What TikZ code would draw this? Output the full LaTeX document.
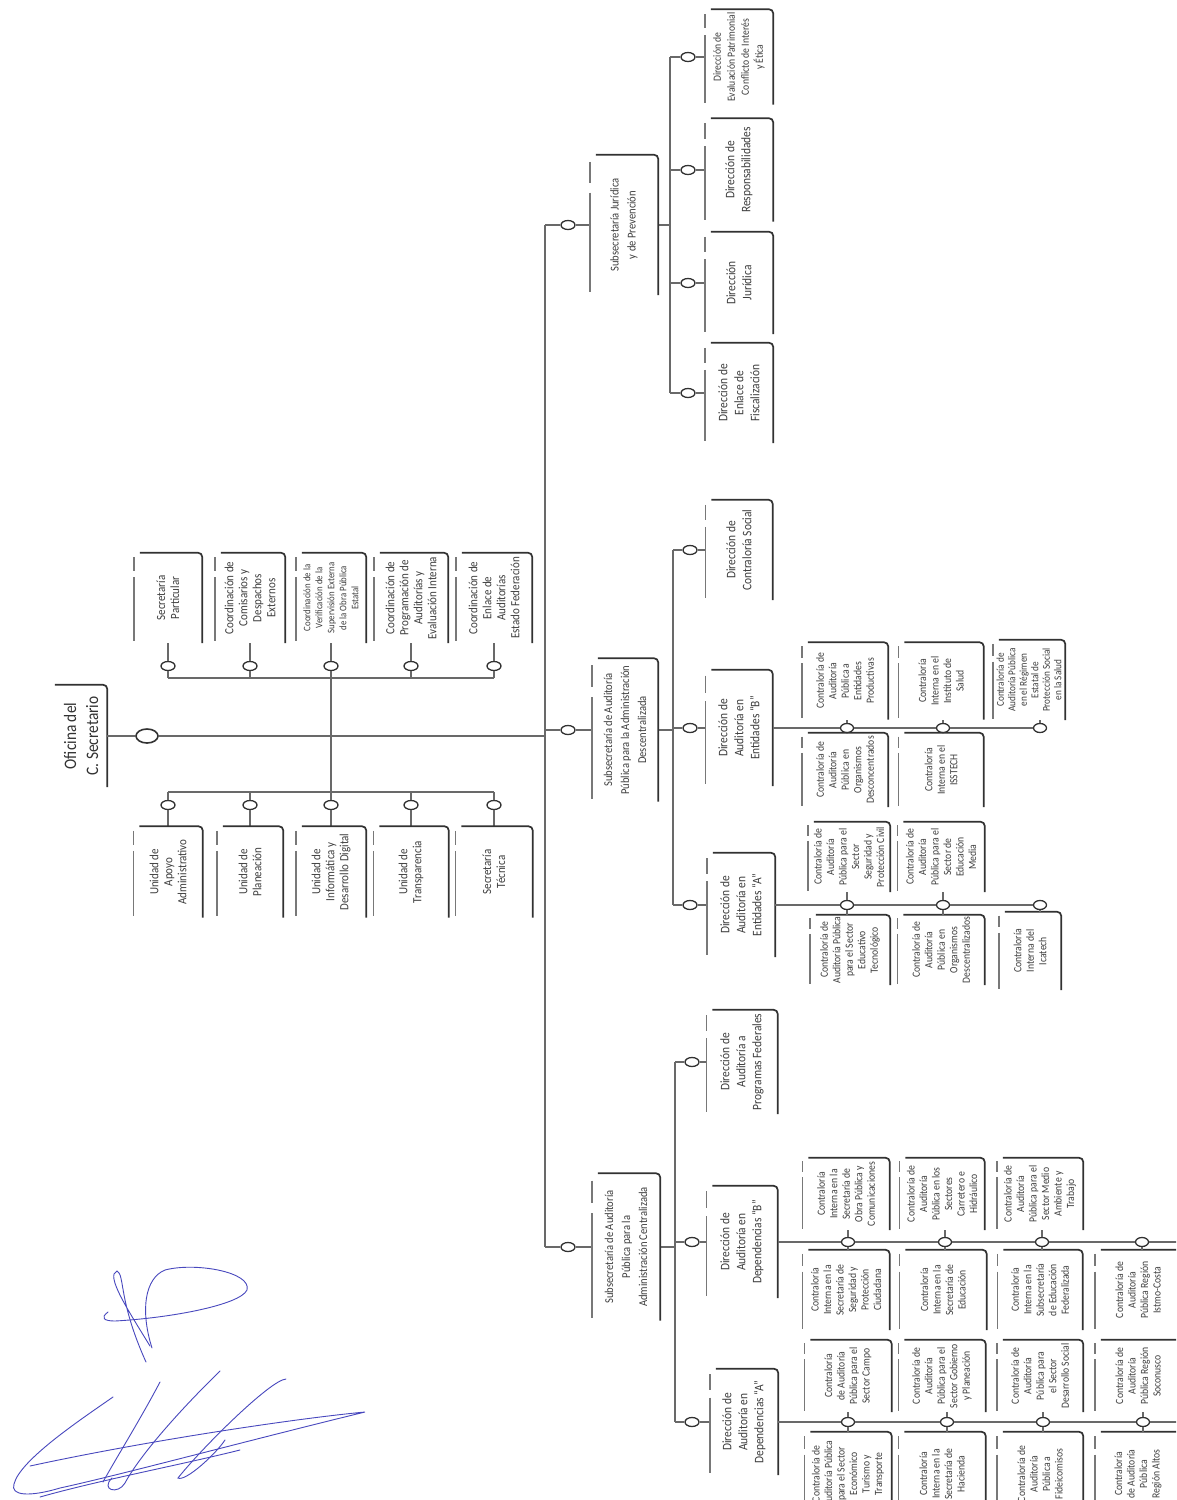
\documentclass[tikz,border=0pt]{standalone}
\usepackage{fontspec}
\setmainfont{Carlito}[FakeStretch=0.88]
\usepackage{xcolor}
\usepackage{tikz}
\usetikzlibrary{shapes.geometric,calc}

\definecolor{linkc}{RGB}{105,105,105}
\definecolor{edgec}{RGB}{50,50,50}
\definecolor{tabc}{RGB}{120,120,120}
\definecolor{txtc}{RGB}{62,62,62}
\definecolor{inkc}{RGB}{72,72,190}

% frame of a unit: dark top and right edges, broken tab on the left
\newcommand{\unitframe}[1]{%
  \draw[boxedge] ($(#1.north east)+(6,0)$) -- (#1.south east) -- (#1.south west);
  \draw[boxtab] ($(#1.north east)!0.05!(#1.north west)$) -- ($(#1.north east)!0.2!(#1.north west)$)
    ($(#1.north east)!0.27!(#1.north west)$) -- ($(#1.north east)!0.98!(#1.north west)$);
}

\begin{document}
\begin{tikzpicture}[x=1pt, y=-1pt,
  ubox/.style 2 args={rotate=90, minimum height=#1pt, minimum width=#2pt, inner sep=1pt, align=center, text=txtc, font=\fontsize{12.5}{14}\selectfont},
  sbox/.style={font=\fontsize{12}{17}\selectfont},
  dbox/.style={font=\fontsize{13}{16}\selectfont},
  gbox/.style={font=\fontsize{11}{12.5}\selectfont},
  lnk/.style={draw=linkc, line width=2.4pt},
  lnkg/.style={draw=linkc, line width=1.7pt},
  oval/.style={ellipse, draw=edgec, line width=1.3pt, fill=white, inner sep=0pt, minimum width=14pt, minimum height=9pt},
  bigoval/.style={oval, minimum width=22pt, minimum height=14pt, line width=1.6pt},
  boxedge/.style={draw=edgec, line width=1.7pt, rounded corners=4pt},
  boxtab/.style={draw=tabc, line width=1.6pt},
  ink/.style={draw=inkc, line width=0.9pt, line cap=round}
]
  \fill[white] (0,0) rectangle (1176,1500);
  \useasboundingbox (0,0) rectangle (1176,1500);
  \clip (0,0) rectangle (1176,1500);

  % head
  \node[ubox={52}{102}, font=\fontsize{17.5}{22}\selectfont, text=edgec] (of) at (81,736) {Oficina del\\C. Secretario};
  \draw[boxedge] (of.north east) -- (of.south east) -- (of.south west);
  \node[bigoval] (o0) at (147,736) {};
  \coordinate (busM) at (545,736);
  \coordinate (busT) at (545,225);
  \coordinate (busD) at (545,730);
  \coordinate (busB) at (545,1247);
  \draw[lnk] (of.south) -- (o0) -- (busM);
  \draw[lnk] (busT) -- (busB);

  % staff units
  \node[ubox={68}{90}] (sp) at (168,598) {Secretaría\\Particular};
  \node[ubox={70}{90}] (ccd) at (250,598) {Coordinación de\\Comisarios y\\Despachos\\Externos};
  \node[ubox={70}{90}, font=\fontsize{10}{12}\selectfont] (cvs) at (331,598) {Coordinación de la\\Verificación de la\\Supervisión Externa\\de la Obra Pública\\Estatal};
  \node[ubox={74}{90}] (cpa) at (411,598) {Coordinación de\\Programación de\\Auditorías y\\Evaluación Interna};
  \node[ubox={76}{90}] (cea) at (494,598) {Coordinación de\\Enlace de\\Auditorías\\Estado Federación};
  \node[ubox={69}{91}] (uaa) at (168,872) {Unidad de\\Apoyo\\Administrativo};
  \node[ubox={66}{91}] (upl) at (250,872) {Unidad de\\Planeación};
  \node[ubox={70}{91}] (uid) at (331,872) {Unidad de\\Informática y\\Desarrollo Digital};
  \node[ubox={75}{91}] (utr) at (411,872) {Unidad de\\Transparencia};
  \node[ubox={77}{91}] (stc) at (494,872) {Secretaría\\Técnica};

  \coordinate (ubL) at (168,678);
  \coordinate (ubR) at (494,678);
  \coordinate (lbL) at (168,792);
  \coordinate (lbR) at (494,792);
  \draw[lnk] (ubL) -- (ubR);
  \draw[lnk] (lbL) -- (lbR);
  \draw[lnk] (ubL -| 331,0) -- (lbL -| 331,0);
  \foreach \n/\x in {sp/168, ccd/250, cvs/331, cpa/411, cea/494} {
    \node[oval] (o\n) at (\x,666) {};
    \draw[lnk] (\x,678) -- (o\n) -- (\n.west);
  }
  \foreach \n/\x in {uaa/168, upl/250, uid/331, utr/411, stc/494} {
    \node[oval] (o\n) at (\x,805) {};
    \draw[lnk] (\x,792) -- (o\n) -- (\n.east);
  }

  % subsecretarias
  \node[ubox={68}{140}, sbox] (sjp) at (624,225) {Subsecretaría Jurídica\\y de Prevención};
  \node[ubox={66}{143}, sbox] (sad) at (625,730) {Subsecretaría de Auditoría\\Pública para la Administración\\Descentralizada};
  \node[ubox={68}{147}, sbox] (sac) at (626,1247) {Subsecretaría de Auditoría\\Pública para la\\Administración Centralizada};
  \node[oval] (osjp) at (568,225) {};
  \node[oval] (osad) at (568,730) {};
  \node[oval] (osac) at (568,1247) {};
  \draw[lnk] (busT) -- (osjp) -- (sjp);
  \draw[lnk] (busD) -- (osad) -- (sad);
  \draw[lnk] (busB) -- (osac) -- (sac);

  % direcciones
  \node[ubox={68}{95}, dbox, font=\fontsize{11}{14}\selectfont] (dep) at (739,57) {Dirección de\\Evaluación Patrimonial\\Conflicto de Interés\\y Ética};
  \node[ubox={68}{103}, dbox] (dre) at (739,170) {Dirección de\\Responsabilidades};
  \node[ubox={68}{102}, dbox] (dju) at (739,283) {Dirección\\Jurídica};
  \node[ubox={68}{100}, dbox] (def) at (739,393) {Dirección de\\Enlace de\\Fiscalización};
  \node[ubox={67}{100}, dbox] (dcs) at (739,550) {Dirección de\\Contraloría Social};
  \node[ubox={67}{116}, dbox] (deb) at (739,728) {Dirección de\\Auditoría en\\Entidades “B”};
  \node[ubox={68}{104}, dbox] (dea) at (741,905) {Dirección de\\Auditoría en\\Entidades “A”};
  \node[ubox={71}{104}, dbox] (dpf) at (742,1062) {Dirección de\\Auditoría a\\Programas Federales};
  \node[ubox={71}{112}, dbox] (ddb) at (742,1242) {Dirección de\\Auditoría en\\Dependencias “B”};
  \node[ubox={68}{106}, dbox] (dda) at (744,1422) {Dirección de\\Auditoría en\\Dependencias “A”};

  \draw[lnk] (670,57) -- (670,393);
  \draw[lnk] (sjp.south) -- (670,225);
  \foreach \n/\y in {dep/57, dre/170, dju/283, def/393} {
    \node[oval] (o\n) at (688,\y) {};
    \draw[lnk] (670,\y) -- (o\n) -- (\n);
  }
  \draw[lnk] (673,550) -- (673,905);
  \draw[lnk] (sad.south) -- (673,730);
  \foreach \n/\y in {dcs/550, deb/728, dea/905} {
    \node[oval] (o\n) at (690,\y) {};
    \draw[lnk] (673,\y) -- (o\n) -- (\n);
  }
  \draw[lnk] (675,1062) -- (675,1422);
  \draw[lnk] (sac.south) -- (675,1247);
  \foreach \n/\y in {dpf/1062, ddb/1242, dda/1422} {
    \node[oval] (o\n) at (692,\y) {};
    \draw[lnk] (675,\y) -- (o\n) -- (\n);
  }

  % contralorias, entidades B
  \node[ubox={86}{77}, gbox] (eb1) at (845,681) {Contraloría de\\Auditoría\\Pública a\\Entidades\\Productivas};
  \node[ubox={85}{77}, gbox] (eb2) at (941,681) {Contraloría\\Interna en el\\Instituto de\\Salud};
  \node[ubox={72}{80}, gbox, font=\fontsize{10.5}{11.5}\selectfont] (eb3) at (1029,680) {Contraloría de\\Auditoría Pública\\en el Régimen\\Estatal de\\Protección Social\\en la Salud};
  \node[ubox={86}{74}, gbox] (eb4) at (845,770) {Contraloría de\\Auditoría\\Pública en\\Organismos\\Desconcentrados};
  \node[ubox={85}{74}, gbox] (eb5) at (941,770) {Contraloría\\Interna en el\\ISSTECH};

  % contralorias, entidades A
  \node[ubox={82}{70}, gbox] (ea1) at (849,857) {Contraloría de\\Auditoría\\Pública para el\\Sector\\Seguridad y\\Protección Civil};
  \node[ubox={87}{70}, gbox] (ea2) at (941,857) {Contraloría de\\Auditoría\\Pública para el\\Sector de\\Educación\\Media};
  \node[ubox={80}{70}, gbox] (ea3) at (850,950) {Contraloría de\\Auditoría Pública\\para el Sector\\Educativo\\Tecnológico};
  \node[ubox={87}{70}, gbox] (ea4) at (941,950) {Contraloría de\\Auditoría\\Pública en\\Organismos\\Descentralizados};
  \node[ubox={62}{78}, gbox] (ea5) at (1030,951) {Contraloría\\Interna del\\Icatech};

  % contralorias, dependencias B
  \node[ubox={87}{72}, gbox] (db1) at (846,1194) {Contraloría\\Interna en la\\Secretaría de\\Obra Pública y\\Comunicaciones};
  \node[ubox={85}{72}, gbox] (db2) at (942,1194) {Contraloría de\\Auditoría\\Pública en los\\Sectores\\Carretero e\\Hidráulico};
  \node[ubox={86}{72}, gbox] (db3) at (1040,1194) {Contraloría de\\Auditoría\\Pública para el\\Sector Medio\\Ambiente y\\Trabajo};
  \node[ubox={87}{80}, gbox] (db4) at (846,1290) {Contraloría\\Interna en la\\Secretaría de\\Seguridad y\\Protección\\Ciudadana};
  \node[ubox={87}{80}, gbox] (db5) at (943,1290) {Contraloría\\Interna en la\\Secretaría de\\Educación};
  \node[ubox={85}{80}, gbox] (db6) at (1040,1290) {Contraloría\\Interna en la\\Subsecretaría\\de Educación\\Federalizada};
  \node[ubox={86}{80}, gbox] (db7) at (1138,1290) {Contraloría de\\Auditoría\\Pública Región\\Istmo-Costa};

  % contralorias, dependencias A
  \node[ubox={87}{72}, gbox] (da1) at (848,1376) {Contraloría\\de Auditoría\\Pública para el\\Sector Campo};
  \node[ubox={87}{72}, gbox] (da2) at (942,1376) {Contraloría de\\Auditoría\\Pública para el\\Sector Gobierno\\y Planeación};
  \node[ubox={86}{72}, gbox] (da3) at (1040,1376) {Contraloría de\\Auditoría\\Pública para\\el Sector\\Desarrollo Social};
  \node[ubox={86}{72}, gbox] (da4) at (1138,1376) {Contraloría de\\Auditoría\\Pública Región\\Soconusco};
  \node[ubox={87}{84}, gbox] (da5) at (848,1474) {Contraloría de\\Auditoría Pública\\para el Sector\\Económico\\Turismo y\\Transporte};
  \node[ubox={87}{84}, gbox] (da6) at (942,1474) {Contraloría\\Interna en la\\Secretaría de\\Hacienda};
  \node[ubox={86}{84}, gbox] (da7) at (1040,1474) {Contraloría de\\Auditoría\\Pública a\\Fideicomisos};
  \node[ubox={86}{84}, gbox] (da8) at (1138,1474) {Contraloría\\de Auditoría\\Pública\\Región Altos};

  \foreach \n in {sp,ccd,cvs,cpa,cea,uaa,upl,uid,utr,stc,sjp,sad,sac,dep,dre,dju,def,dcs,deb,dea,dpf,ddb,dda,
    eb1,eb2,eb3,eb4,eb5,ea1,ea2,ea3,ea4,ea5,db1,db2,db3,db4,db5,db6,db7,da1,da2,da3,da4,da5,da6,da7,da8}
    {\unitframe{\n}}

  % links to the contralorias
  \foreach \n/\x/\y in {oeb1/847/728, oeb2/943/728, oeb3/1040/728, oea1/847/905, oea2/943/905, oea3/1040/905,
    odb1/848/1242, odb2/945/1242, odb3/1042/1242, odb4/1142/1242, oda1/848/1422, oda2/947/1422, oda3/1043/1422, oda4/1143/1422}
    \node[oval, minimum width=13pt] (\n) at (\x,\y) {};
  \draw[lnkg] (deb.south) -- (oeb1) -- (oeb2) -- (oeb3);
  \draw[lnkg] (dea.south) -- (oea1) -- (oea2) -- (oea3);
  \draw[lnkg] (ddb.south) -- (odb1) -- (odb2) -- (odb3) -- (odb4) -- (1190,1242);
  \draw[lnkg] (dda.south) -- (oda1) -- (oda2) -- (oda3) -- (oda4) -- (1190,1422);
  \foreach \o/\b in {oeb1/eb1, oeb2/eb2, oeb3/eb3, oea1/ea1, oea2/ea2, odb1/db1, odb2/db2, odb3/db3,
    oda1/da1, oda2/da2, oda3/da3, oda4/da4}
    \draw[lnkg] (\o) -- (\o |- \b.west);
  \foreach \o/\b in {oeb1/eb4, oeb2/eb5, oea1/ea3, oea2/ea4, oea3/ea5, odb1/db4, odb2/db5, odb3/db6, odb4/db7,
    oda1/da5, oda2/da6, oda3/da7, oda4/da8}
    \draw[lnkg] (\o) -- (\o |- \b.east);

  % signatures
  \draw[ink] (150,1346) .. controls (128,1310) and (105,1275) .. (117,1271) .. controls (125,1275) and (118,1300) .. (146,1362);
  \draw[ink] (108,1312) .. controls (100,1318) and (104,1321) .. (115,1321) .. controls (170,1318) and (240,1305) .. (247,1290)
    .. controls (252,1272) and (195,1262) .. (165,1270) .. controls (145,1278) and (140,1310) .. (152,1348);
  \draw[ink] (113,1397) .. controls (80,1420) and (20,1460) .. (14,1484) .. controls (10,1496) and (30,1497) .. (60,1488)
    .. controls (120,1475) and (250,1440) .. (365,1412) .. controls (300,1418) and (150,1440) .. (30,1466);
  \draw[ink] (160,1382) .. controls (140,1420) and (115,1460) .. (103,1482);
  \draw[ink] (220,1371) .. controls (180,1410) and (140,1455) .. (125,1483) .. controls (118,1495) and (100,1490) .. (112,1478);
  \draw[ink] (286,1379) .. controls (270,1380) and (200,1450) .. (178,1478) .. controls (185,1482) and (215,1455) .. (225,1440);
  \draw[ink] (40,1497) .. controls (100,1480) and (180,1465) .. (240,1450);
\end{tikzpicture}
\end{document}
